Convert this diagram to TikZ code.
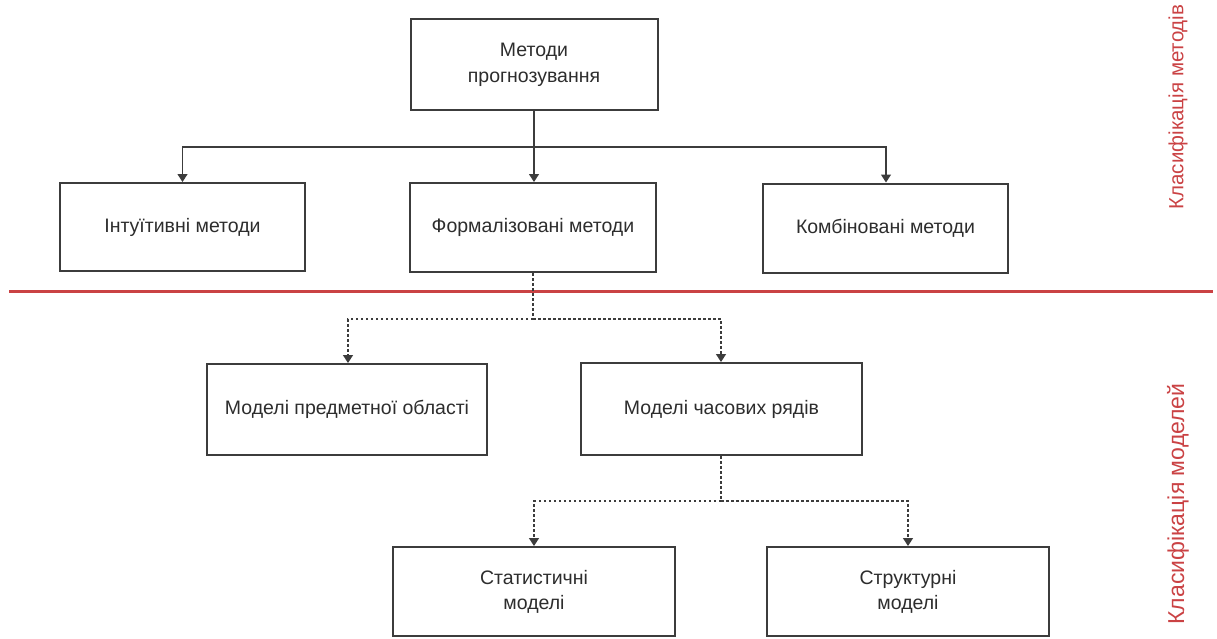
\documentclass[tikz,border=0pt]{standalone}
\usepackage{fontspec}
\setmainfont{Liberation Sans}
\usetikzlibrary{arrows.meta}
\definecolor{boxline}{RGB}{60,60,60}
\definecolor{boxtext}{RGB}{45,45,45}
\definecolor{sepred}{RGB}{202,66,68}
\tikzset{
  x=1pt, y=-1pt,
  stepbox/.style={draw=boxline, line width=2pt, fill=white, inner sep=0pt,
    text=boxtext, font=\fontsize{19.5}{25}\selectfont, align=center},
  solidlink/.style={draw=boxline, line width=1.2pt},
  dotlink/.style={draw=boxline, line width=1.4pt, dash pattern=on 2.5pt off 2.5pt},
  tip/.style={-{Triangle[width=10pt,length=8pt]}},
  sidelabel/.style={text=sepred, rotate=90}
}
\begin{document}
\begin{tikzpicture}
\useasboundingbox (0,0) rectangle (1217,638);

% separator between method and model classification
\draw[sepred, line width=3pt] (9,291) -- (1213,291);
\node[sidelabel, font=\fontsize{20.5}{22}\selectfont] (lblmeth) at (1178,107) {Класифікація методів};
\node[sidelabel, font=\fontsize{23}{25}\selectfont] (lblmod) at (1178,504) {Класифікація моделей};

% boxes
\node[stepbox, minimum width=247pt, minimum height=91pt] (root) at (534,64.5) {Методи\\[1pt]прогнозування};
\node[stepbox, minimum width=245pt, minimum height=88pt] (intu) at (182.5,227) {Інтуїтивні методи};
\node[stepbox, minimum width=246pt, minimum height=89pt] (form) at (533,227.5) {Формалізовані методи};
\node[stepbox, minimum width=245pt, minimum height=89pt] (comb) at (885.5,228) {Комбіновані методи};
\node[stepbox, minimum width=280pt, minimum height=91pt] (subj) at (347,409.5) {Моделі предметної області};
\node[stepbox, minimum width=281pt, minimum height=92pt] (tser) at (721.5,409) {Моделі часових рядів};
\node[stepbox, minimum width=282pt, minimum height=89pt] (stat) at (534,591.5) {Статистичні\\моделі};
\node[stepbox, minimum width=282pt, minimum height=89pt] (strc) at (908,591.5) {Структурні\\моделі};

% method branches
\coordinate (j1) at (534,147);
\draw[solidlink, tip] (root.south) -- ([xshift=1pt]form.north);
\draw[solidlink, tip] (j1) -| (intu.north);
\draw[solidlink, tip] (j1) -| ([xshift=0.5pt]comb.north);

% model branches
\coordinate (j2) at (533,319);
\draw[dotlink] (form.south) -- (j2);
\draw[dotlink, tip] (j2) -| ([xshift=1pt]subj.north);
\draw[dotlink, tip] (j2) -| ([xshift=-0.5pt]tser.north);

\coordinate (j3) at (721,501);
\draw[dotlink] ([xshift=-0.5pt]tser.south) -- (j3);
\draw[dotlink, tip] (j3) -| (stat.north);
\draw[dotlink, tip] (j3) -| (strc.north);
\end{tikzpicture}
\end{document}
